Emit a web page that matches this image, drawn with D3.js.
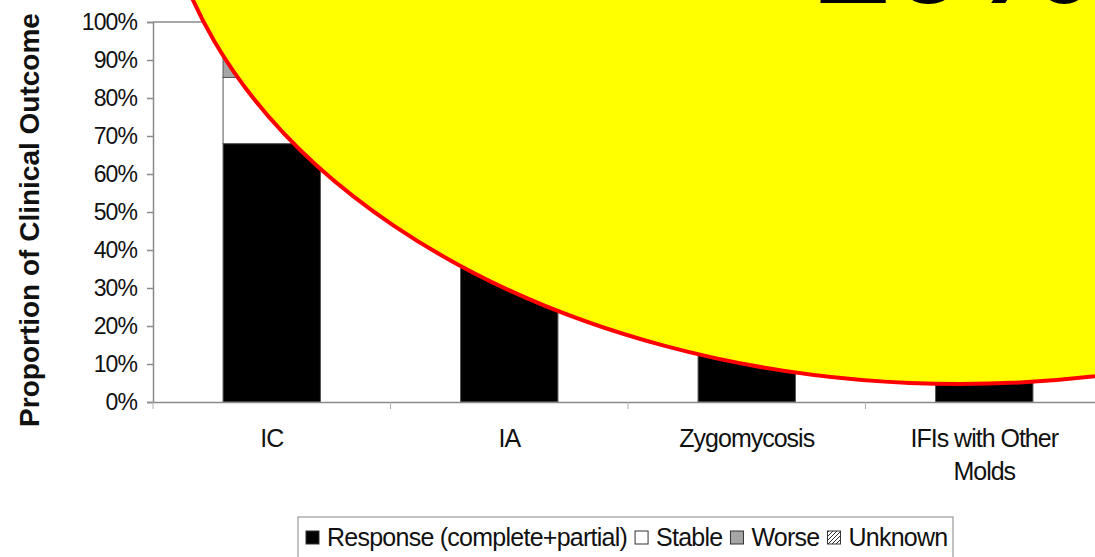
<!DOCTYPE html>
<html>
<head>
<meta charset="utf-8">
<script src="https://cdn.jsdelivr.net/npm/d3@7/dist/d3.min.js"></script>
<style>
  html, body { margin: 0; padding: 0; background: #fff; }
  svg { display: block; }
  text { font-family: "Liberation Sans", Arial, sans-serif; }
</style>
</head>
<body>
<svg id="chart" width="1095" height="557"></svg>
<script>
// Clinical outcome by infection type (share of patients, %)
const categories = ["IC", "IA", "Zygomycosis", "IFIs with Other Molds"];
const categoryLines = [["IC"], ["IA"], ["Zygomycosis"], ["IFIs with Other", "Molds"]];
const seriesNames = ["Response (complete+partial)", "Stable", "Worse", "Unknown"];
const response = [68, 42, 60, 40];
const stable = [17.4, 12, 10, 15];
const worse = [6, 38, 22, 35];
const unknown = [8.6, 8, 8, 10];
const yTicks = [0, 10, 20, 30, 40, 50, 60, 70, 80, 90, 100];
const calloutText = "10%";

const W = 1095, H = 557;
const svg = d3.select("#chart");
const defs = svg.append("defs");

// diagonal hatch for the "Unknown" segment
const pat = defs.append("pattern")
  .attr("id", "hatch").attr("patternUnits", "userSpaceOnUse")
  .attr("width", 4).attr("height", 4);
pat.append("rect").attr("width", 4).attr("height", 4).attr("fill", "#fff");
pat.append("path").attr("d", "M-1,1 l2,-2 M0,4 l4,-4 M3,5 l2,-2")
  .attr("stroke", "#333").attr("stroke-width", 1);

const fills = ["#000000", "#ffffff", "#a6a6a6", "url(#hatch)"];

const x = d3.scaleBand().domain(categories)
  .range([153, 1103]).paddingInner(0.59).paddingOuter(0.295);
const y = d3.scaleLinear().domain([0, 100]).range([402, 22]);

// stacked data
const rows = categories.map((c, i) => ({
  cat: c,
  [seriesNames[0]]: response[i],
  [seriesNames[1]]: stable[i],
  [seriesNames[2]]: worse[i],
  [seriesNames[3]]: unknown[i]
}));
const stack = d3.stack().keys(seriesNames)(rows);

// plot frame (top border)
svg.append("line")
  .attr("x1", 153).attr("x2", W).attr("y1", y(100)).attr("y2", y(100))
  .attr("stroke", "#8a8a8a").attr("stroke-width", 1.5);

// bars
stack.forEach((layer, li) => {
  svg.append("g").selectAll("rect").data(layer).join("rect")
    .attr("x", d => x(d.data.cat))
    .attr("width", x.bandwidth())
    .attr("y", d => y(d[1]))
    .attr("height", d => y(d[0]) - y(d[1]))
    .attr("fill", fills[li])
    .attr("stroke", "#555").attr("stroke-width", 1);
});

// y axis
const yAxis = svg.append("g").attr("transform", "translate(153,0)")
  .call(d3.axisLeft(y).tickValues(yTicks).tickFormat(d => d + "%")
    .tickSize(6).tickPadding(10));
yAxis.select(".domain").attr("stroke", "#8a8a8a").attr("stroke-width", 1.5);
yAxis.selectAll(".tick line").attr("stroke", "#8a8a8a").attr("stroke-width", 1.5);
yAxis.selectAll(".tick text")
  .attr("font-size", 23).attr("letter-spacing", -0.9)
  .attr("fill", "#111").style("font-family", "'Liberation Sans', Arial, sans-serif");

// x axis
const xAxis = svg.append("g").attr("transform", "translate(0,402)")
  .call(d3.axisBottom(x).tickSize(0).tickFormat(""));
xAxis.select(".domain").attr("stroke", "#8a8a8a").attr("stroke-width", 1.5);
// category separators
const bounds = d3.range(categories.length + 1).map(i => 153 + i * x.step());
svg.append("g").selectAll("line").data(bounds).join("line")
  .attr("x1", d => d).attr("x2", d => d).attr("y1", 402).attr("y2", 409)
  .attr("stroke", "#b0b0b0").attr("stroke-width", 1);
// category labels
const xl = svg.append("g").selectAll("text").data(categories).join("text")
  .attr("x", d => x(d) + x.bandwidth() / 2)
  .attr("y", 447)
  .attr("text-anchor", "middle")
  .attr("font-size", 25).attr("letter-spacing", -1)
  .attr("fill", "#111");
xl.each(function(d, i) {
  const t = d3.select(this);
  categoryLines[i].forEach((line, k) => {
    t.append("tspan").attr("x", x(d) + x.bandwidth() / 2)
      .attr("dy", k === 0 ? 0 : 33).text(line);
  });
});

// y axis title
svg.append("text")
  .attr("transform", "translate(39,220) rotate(-90)")
  .attr("text-anchor", "middle")
  .attr("font-size", 28).attr("font-weight", "bold")
  .attr("fill", "#111")
  .text("Proportion of Clinical Outcome");

// legend
const lg = svg.append("g");
lg.append("rect").attr("x", 298).attr("y", 517).attr("width", 655).attr("height", 60)
  .attr("fill", "#fff").attr("stroke", "#9a9a9a").attr("stroke-width", 1.2);
let lx = 306;
seriesNames.forEach((name, i) => {
  lg.append("rect").attr("x", lx).attr("y", 531).attr("width", 13).attr("height", 13)
    .attr("fill", fills[i]).attr("stroke", "#333").attr("stroke-width", 1);
  const t = lg.append("text").attr("x", lx + 21).attr("y", 546)
    .attr("font-size", 25).attr("letter-spacing", -0.75).attr("fill", "#111").text(name);
  lx += 21 + t.node().getComputedTextLength() + 8;
});

// callout
svg.append("ellipse")
  .attr("cx", 960).attr("cy", -158.5).attr("rx", 802).attr("ry", 542.5)
  .attr("fill", "#ffff00").attr("stroke", "#ff0000").attr("stroke-width", 4);
svg.append("text")
  .attr("x", 1092).attr("y", 3)
  .attr("text-anchor", "end")
  .attr("font-size", 140).attr("font-weight", "bold")
  .attr("fill", "#000")
  .text(calloutText);
</script>
</body>
</html>
